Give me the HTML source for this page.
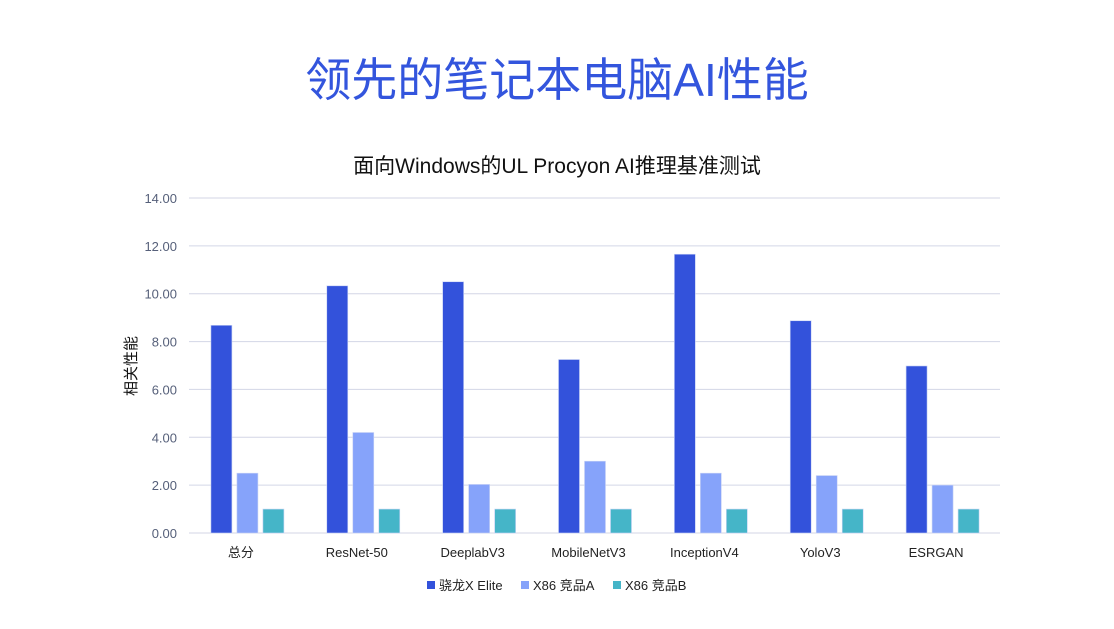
<!DOCTYPE html>
<html><head><meta charset="utf-8"><style>
body{margin:0;width:1114px;height:624px;background:#fff;overflow:hidden;font-family:"Liberation Sans","Noto Sans CJK SC",sans-serif}
</style></head><body>
<svg id="c" width="1114" height="624" xmlns="http://www.w3.org/2000/svg">
<text x="557" y="96" text-anchor="middle" font-size="46" fill="#3355DD" font-family="Liberation Sans, Noto Sans CJK SC, sans-serif">领先的笔记本电脑AI性能</text>
<text x="557" y="173" text-anchor="middle" font-size="21" fill="#111" font-family="Liberation Sans, Noto Sans CJK SC, sans-serif">面向Windows的UL Procyon AI推理基准测试</text>
<text transform="translate(136,366) rotate(-90)" text-anchor="middle" font-size="15" fill="#111" font-family="Liberation Sans, Noto Sans CJK SC, sans-serif">相关性能</text>
<g id="grid"></g><g id="bars"></g><g id="xl"></g>
<g font-size="13" fill="#222" font-family="Liberation Sans, Noto Sans CJK SC, sans-serif">
<rect x="427" y="581" width="8" height="8" fill="#3352DB"/><text x="439" y="590">骁龙X Elite</text>
<rect x="521" y="581" width="8" height="8" fill="#86A3FA"/><text x="533" y="590">X86 竞品A</text>
<rect x="613" y="581" width="8" height="8" fill="#45B5C8"/><text x="625" y="590">X86 竞品B</text>
</g>
</svg>
<script>
const categories=["总分","ResNet-50","DeeplabV3","MobileNetV3","InceptionV4","YoloV3","ESRGAN"];
const snapdragon=[8.68,10.33,10.5,7.25,11.65,8.87,6.98];
const x86A=[2.5,4.2,2.03,3.0,2.5,2.4,2.0];
const x86B=[1,1,1,1,1,1,1];
const yTicks=[0,2,4,6,8,10,12,14];
const ns="http://www.w3.org/2000/svg";
const x0=189,x1=1000,yb=533,yt=198,ymax=14;
const y=v=>yb-(v/ymax)*(yb-yt);
const gw=(x1-x0)/categories.length;
function el(t,a,p){const e=document.createElementNS(ns,t);for(const k in a)e.setAttribute(k,a[k]);p.appendChild(e);return e;}
const grid=document.getElementById('grid'),bars=document.getElementById('bars'),xl=document.getElementById('xl');
yTicks.forEach(v=>{
 const l=el('line',{x1:x0,x2:x1,y1:y(v),y2:y(v),stroke:'#D3D6E6','stroke-width':1},grid);
 
 
 const t=el('text',{x:177,y:y(v)+5,'text-anchor':'end','font-size':13,fill:'#56607A'},grid);
 t.textContent=v.toFixed(2);
 
 
});
const series=[[snapdragon,'#3352DB'],[x86A,'#86A3FA'],[x86B,'#45B5C8']];
categories.forEach((c,i)=>{
 const cx=x0+gw*(i+0.5);
 series.forEach(([d,col],s)=>{
  const bx=cx-36+s*26;
  const r=el('rect',{x:bx,y:y(d[i]),width:21,height:yb-y(d[i]),fill:col,stroke:'#C9D3F5','stroke-width':0.6},bars);
  
  
 });
 const t=el('text',{x:cx-6,y:557,'text-anchor':'middle','font-size':13,fill:'#222','font-family':'Liberation Sans, Noto Sans CJK SC, sans-serif'},xl);
 t.textContent=c;
 
 
});
</script>
</body></html>
